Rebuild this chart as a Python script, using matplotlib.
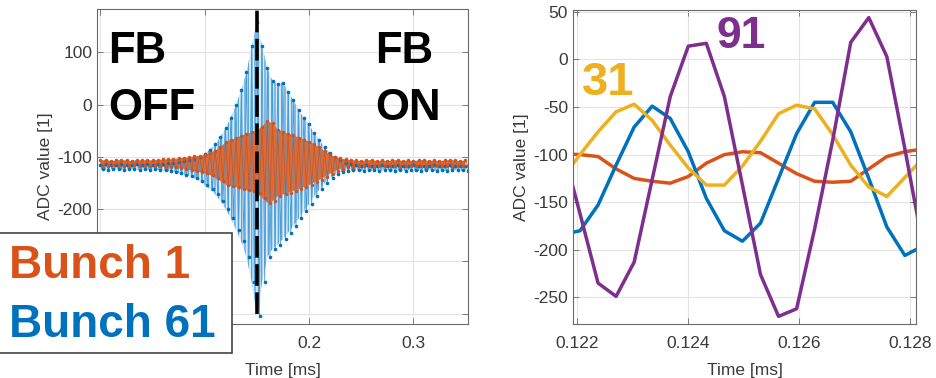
import numpy as np
import matplotlib
matplotlib.use('Agg')
import matplotlib.pyplot as plt
from matplotlib.patches import Rectangle

plt.rcParams['font.family'] = ['Liberation Sans', 'DejaVu Sans']
plt.rcParams['axes.unicode_minus'] = False
plt.rcParams['hatch.linewidth'] = 1.0

# ---- left panel: envelope of the bunch signals (upper / lower sample), every 5 us
t_env = np.round(np.arange(0, 0.3501, 0.005), 4)
blue_hi = [-115, -114, -116, -115, -114, -115, -116, -114, -115, -114, -115, -114, -113,
           -112, -111, -110, -108, -106, -104, -100, -94, -86, -76, -62, -45, -25, 0, 28, 62,
           112, 158, 112, 70, 45, 40, 42, 25, 8, -10, -25, -38, -55, -68, -82, -93, -101,
           -107, -111, -114,
           -116, -117, -116, -118, -117, -116, -118, -117, -116, -117, -118, -116, -117,
           -118, -117, -116, -118, -117, -116, -117, -118, -117]
blue_lo = [-124, -125, -123, -124, -125, -124, -123, -125, -124, -125, -124, -125, -126,
           -127, -129, -131, -134, -137, -140, -146, -154, -162, -172, -184, -200, -218,
           -240, -262, -292, -340, -405, -340, -292, -276, -268, -257, -245, -232, -218,
           -204, -190, -175, -162, -150, -140, -133, -129, -127, -126,
           -126, -127, -125, -126, -127, -126, -125, -127, -126, -127, -125, -126, -127,
           -126, -125, -127, -126, -127, -126, -125, -126, -127]
orange_hi = [-107, -106, -108, -107, -106, -107, -108, -106, -107, -106, -107, -106, -105,
             -105, -104, -103, -102, -101, -99, -98, -97, -93, -88, -82, -72, -68, -64, -60,
             -56, -53, -50, -42, -32, -36, -48, -52, -56, -59, -63, -67, -71, -76, -82, -89,
             -96, -100, -103, -105, -106,
             -107, -108, -107, -106, -108, -107, -108, -107, -106, -108, -107, -108, -107,
             -106, -108, -107, -108, -107, -106, -107, -108, -107]
orange_lo = [-117, -118, -116, -117, -118, -117, -116, -118, -117, -118, -117, -118, -119,
             -119, -120, -121, -123, -125, -127, -129, -131, -135, -140, -146, -153, -156,
             -158, -161, -164, -166, -170, -178, -188, -185, -175, -172, -169, -165, -162,
             -158, -154, -149, -144, -138, -132, -127, -123, -120, -119,
             -118, -117, -118, -119, -117, -118, -117, -118, -119, -117, -118, -117, -118,
             -119, -117, -118, -117, -118, -119, -118, -117, -118]
t_fb = 0.15  # feedback switched on

# ---- right panel: zoom on a few turns
t_zoom = [0.121725, 0.12205, 0.122375, 0.1227, 0.123025, 0.12335, 0.123675, 0.124,
          0.124325, 0.12465, 0.124975, 0.1253, 0.125625, 0.12595, 0.126275, 0.1266,
          0.126925, 0.12725, 0.127575, 0.1279, 0.128225]
b1 = [-99, -100, -102, -115, -125, -128, -130, -123, -109, -100, -97, -98, -109, -120,
      -128, -129, -128, -115, -102, -97, -94]
b61 = [-184, -180, -153, -111, -71, -49, -62, -97, -146, -180, -191, -172, -125, -78,
       -45, -45, -76, -125, -176, -206, -196]
b31 = [-125, -100, -76, -55, -47, -64, -90, -114, -132, -132, -112, -86, -57, -48, -52,
       -79, -111, -134, -144, -124, -104]
b91 = [-90, -162, -235, -249, -213, -126, -39, 14, 17, -39, -132, -226, -270, -262, -178,
       -85, 18, 44, 3, -94, -196]

c_blue = '#0072BD'
c_orange = '#D95319'
c_yellow = '#EDB120'
c_purple = '#7E2F8E'
tick_col = '#3a3a3a'

W, H = 937, 378
fig = plt.figure(figsize=(W / 100, H / 100), dpi=100)


def style(ax):
    ax.grid(True, color='#e3e3e3', lw=0.8)
    ax.set_axisbelow(True)
    for s in ax.spines.values():
        s.set_color('#6a6a6a')
        s.set_linewidth(0.8)
    ax.tick_params(direction='in', length=4, width=0.6, color='#6a6a6a',
                   labelsize=12.5, labelcolor=tick_col, top=True, right=True)
    ax.tick_params(axis='x', pad=9)
    ax.set_xlabel('Time [ms]', fontsize=12.5, color=tick_col, labelpad=8)
    ax.set_ylabel('ADC value [1]', fontsize=12.5, color=tick_col, labelpad=3)


# left panel
ax1 = fig.add_axes([97 / W, 54 / H, 371 / W, 315 / H])
xb = np.column_stack([t_env, t_env + 0.0025]).ravel()
yb = np.column_stack([blue_hi, blue_lo]).ravel()
yo = np.column_stack([orange_hi, orange_lo]).ravel()
# dense turn-by-turn samples -> striped band
ax1.fill_between(t_env, blue_lo, blue_hi, facecolor='#dcebf7', edgecolor='#5aa7de',
                 hatch='|||||', lw=0)
ax1.plot(xb, yb, color='#4a9bd6', lw=0.6, marker='.', ms=3.2,
         mfc=c_blue, mec=c_blue)
ax1.fill_between(t_env, orange_lo, orange_hi, facecolor='#de6a33', lw=0)
ax1.plot(xb, yo, color=c_orange, lw=0.6, marker='.', ms=3,
         mfc='#c8562a', mec='#c8562a')
ax1.plot([t_fb, t_fb], [-400, 200], color='black', lw=2.6, dashes=(6, 1.8))
ax1.set_xlim(-0.0033, 0.3524)
ax1.set_ylim(-420, 183)
# the labels of the lower-left ticks sit under the label box
ax1.set_xticks([0, 0.1, 0.2, 0.3])
ax1.set_xticklabels(['', '', '0.2', '0.3'])
ax1.set_yticks([-400, -300, -200, -100, 0, 100])
ax1.set_yticklabels(['', '', '-200', '-100', '0', '100'])
style(ax1)

# right panel
ax2 = fig.add_axes([573 / W, 54 / H, 343 / W, 314 / H])
ax2.plot(t_zoom, b1, color=c_orange, lw=2.5)
ax2.plot(t_zoom, b61, color=c_blue, lw=2.5)
ax2.plot(t_zoom, b31, color=c_yellow, lw=2.5)
ax2.plot(t_zoom, b91, color=c_purple, lw=2.5)
ax2.set_xlim(0.121924, 0.1281)
ax2.set_ylim(-278, 52)
ax2.set_xticks([0.122, 0.124, 0.126, 0.128])
ax2.set_xticklabels(['0.122', '0.124', '0.126', '0.128'])
ax2.set_yticks([-250, -200, -150, -100, -50, 0, 50])
style(ax2)


def ftext(x, y, s, **kw):
    # position in figure pixels (from top-left), baseline aligned
    fig.text(x / W, 1 - y / H, s, va='baseline', ha='left',
             family=['Liberation Sans', 'DejaVu Sans'], fontweight='bold', **kw)


ftext(108, 63, 'FB', fontsize=31.5, color='black')
ftext(108, 120, 'OFF', fontsize=31.5, color='black')
ftext(375, 63, 'FB', fontsize=31.5, color='black')
ftext(375, 120, 'ON', fontsize=31.5, color='black')
ftext(582, 95, '31', fontsize=34, color=c_yellow)
ftext(717, 48, '91', fontsize=32, color=c_purple)

# label box over the lower-left corner
fig.patches.append(Rectangle((-2 / W, 1 - 353 / H), 234 / W, 120 / H,
                             transform=fig.transFigure, facecolor='white',
                             edgecolor='#444444', lw=1.2, zorder=5))
ftext(9, 278, 'Bunch 1', fontsize=33, color=c_orange, zorder=6)
ftext(9, 337, 'Bunch 61', fontsize=33, color=c_blue, zorder=6)

fig.savefig('out.png', dpi=100)
